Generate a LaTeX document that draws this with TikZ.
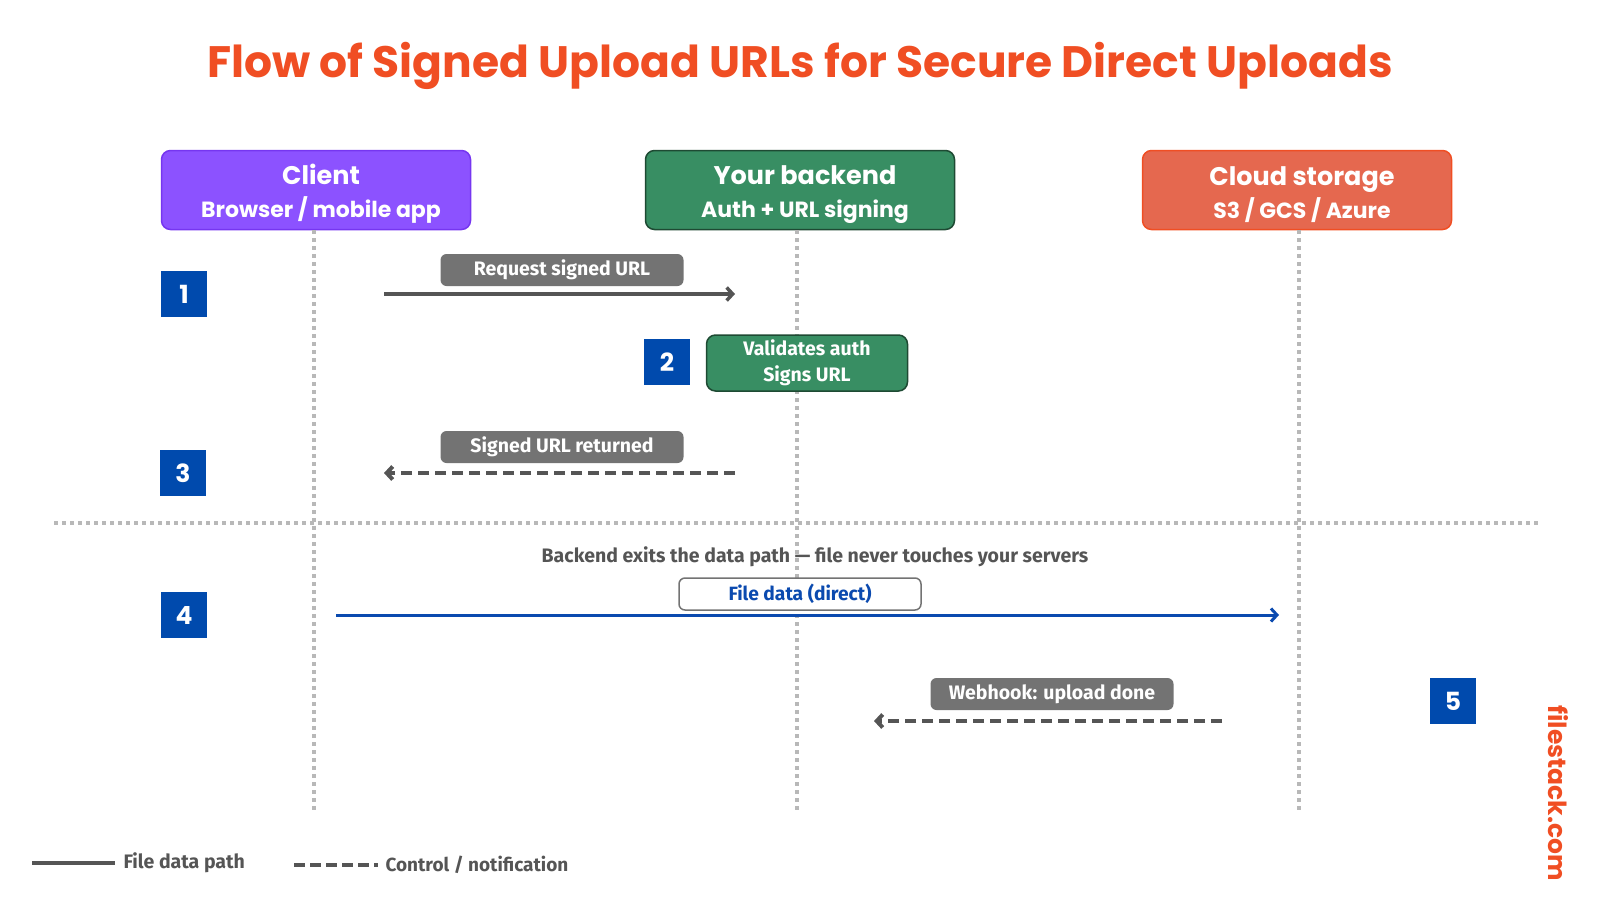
\documentclass[tikz,border=0pt]{standalone}
\usepackage{fontspec}
\setmainfont{Fira Sans}
\newfontfamily\headfont{Poppins}
\usetikzlibrary{arrows.meta}
\definecolor{fsorange}{HTML}{F04E23}
\definecolor{clientfill}{HTML}{8C52FF}
\definecolor{clientline}{HTML}{7636F0}
\definecolor{backfill}{HTML}{388E63}
\definecolor{backline}{HTML}{1E4A33}
\definecolor{cloudfill}{HTML}{E5684F}
\definecolor{stepblue}{HTML}{004AAD}
\definecolor{tagfill}{HTML}{737373}
\definecolor{arrowgray}{HTML}{555555}
\definecolor{dotgray}{HTML}{B8B8B8}
\definecolor{datablue}{HTML}{0B4AAF}
\newcommand{\hdline}[1]{{\hspace*{10pt}\headfont\bfseries\fontsize{25.5}{33}\selectfont\rule[-6pt]{0pt}{34pt}#1}}
\newcommand{\subline}[1]{{\hspace*{10pt}\headfont\bfseries\fontsize{22}{33}\selectfont #1\rule[-5pt]{0pt}{5pt}}}

\begin{document}
\begin{tikzpicture}[x=1pt,y=-1pt,
      >={Straight Barb[length=6pt,width=13pt]},
      actor/.style={rounded corners=9pt,line width=1.5pt,minimum width=309pt,
        minimum height=79pt,align=center,text=white,inner sep=0pt,
        font=\fontsize{22}{33}\selectfont},
      stepno/.style={fill=stepblue,minimum size=46pt,inner sep=0pt,text=white,
        font=\headfont\bfseries\fontsize{25}{25}\selectfont},
      tag/.style={fill=tagfill,rounded corners=6pt,minimum width=243pt,minimum height=32pt,
        inner sep=0pt,text=white,font=\bfseries\fontsize{19.5}{22}\selectfont},
      lifeline/.style={dotgray,line width=3.5pt,dash pattern=on 3.5pt off 4.5pt},
      ctrl/.style={arrowgray,line width=4pt,dash pattern=on 11pt off 6pt,->},
      datapath/.style={arrowgray,line width=3.5pt,->}
    ]
    \useasboundingbox (0,0) rectangle (1600,900);
    \node[text=fsorange,font=\headfont\bfseries\fontsize{44}{50}\selectfont] (title) at (800,66)
      {Flow of Signed Upload URLs for Secure Direct Uploads};
    \node[actor,fill=clientfill,draw=clientline] (client) at (316,190)
      {\hdline{Client}\\\subline{Browser / mobile app}};
    \node[actor,fill=backfill,draw=backline] (backend) at (800,190)
      {\hdline{Your backend}\\\subline{Auth + URL signing}};
    \node[actor,fill=cloudfill,draw=fsorange] (storage) at (1297,190)
      {\hdline{Cloud storage}\\\subline{S3 / GCS / Azure}};
    \coordinate (clientend) at (314,811);
    \coordinate (backendend) at (797,811);
    \coordinate (storageend) at (1299,811);
    \draw[lifeline] (client.south -| clientend) -- (clientend);
    \draw[lifeline] (backend.south -| backendend) -- (backendend);
    \draw[lifeline] (storage.south -| storageend) -- (storageend);
    \coordinate (sepl) at (54,523);
    \coordinate (sepr) at (1541,523);
    \draw[lifeline] (sepl) -- (sepr);
    \node[stepno] (s1) at (184,294) {1};
    \node[stepno] (s2) at (667,362) {2};
    \node[stepno] (s3) at (183,473) {3};
    \node[stepno] (s4) at (184,615) {4};
    \node[stepno] (s5) at (1453,701) {5};
    \node[tag] (reqtag) at (562,270) {Request signed URL};
    \coordinate (reqa) at (384,294);
    \coordinate (reqb) at (735,294);
    \draw[datapath] (reqa) -- (reqb);
    \node[fill=backfill,draw=backline,line width=1.5pt,rounded corners=9pt,minimum width=201pt,
      minimum height=56pt,inner sep=0pt,align=center,text=white,
      font=\bfseries\fontsize{19.5}{26}\selectfont] (validate) at (807,363)
      {Validates auth\\Signs URL};
    \node[tag] (rettag) at (562,447) {Signed URL returned};
    \coordinate (reta) at (735,473);
    \coordinate (retb) at (384,473);
    \draw[ctrl] (reta) -- (retb);
    \node[text=arrowgray,font=\bfseries\fontsize{19.5}{22}\selectfont] (note) at (815,557)
      {Backend exits the data path --- file never touches your servers};
    \coordinate (dataa) at (336,615);
    \coordinate (datab) at (1279,615);
    \draw[datapath,datablue,line width=3pt] (dataa) -- (datab);
    \node[fill=white,draw=tagfill,line width=1.5pt,rounded corners=6pt,minimum width=242pt,
      minimum height=32pt,inner sep=0pt,text=datablue,
      font=\bfseries\fontsize{19.2}{22}\selectfont] (filetag) at (800,594) {File data (direct)};
    \node[tag] (hooktag) at (1052,694) {Webhook: upload done};
    \coordinate (hooka) at (1222,721);
    \coordinate (hookb) at (874,721);
    \draw[ctrl] (hooka) -- (hookb);
    \coordinate (leg1a) at (32,863);
    \coordinate (leg1b) at (115,863);
    \draw[arrowgray,line width=4pt] (leg1a) -- (leg1b);
    \node[anchor=west,text=arrowgray,font=\bfseries\fontsize{19.5}{22}\selectfont] (leg1) at (120,863)
      {File data path};
    \coordinate (leg2a) at (294,865);
    \coordinate (leg2b) at (378,865);
    \draw[arrowgray,line width=4pt,dash pattern=on 11pt off 5pt] (leg2a) -- (leg2b);
    \node[anchor=west,text=arrowgray,font=\bfseries\fontsize{19}{22}\selectfont] (leg2) at (382,865)
      {Control / notification};
    \node[rotate=-90,text=fsorange,font=\headfont\bfseries\fontsize{25}{30}\selectfont] (brand) at (1558,793)
      {filestack.com};
  \end{tikzpicture}
\end{document}
